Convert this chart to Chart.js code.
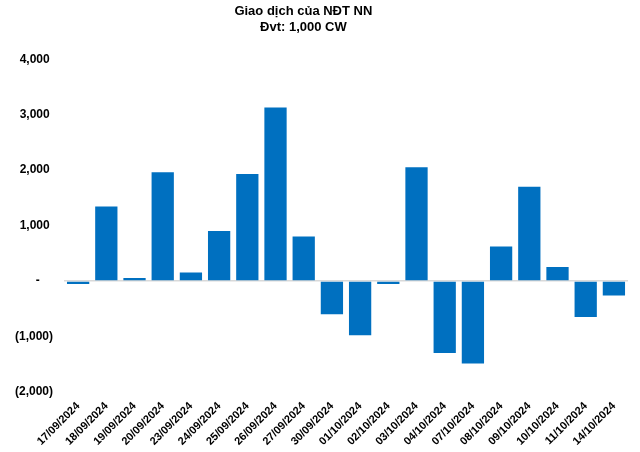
<!DOCTYPE html>
<html lang="vi">
<head>
    <meta charset="UTF-8">
    <title>Giao dịch của NĐT NN</title>
    <script src="https://cdn.jsdelivr.net/npm/chart.js"></script>
    <style>
        body {
            margin: 0;
            background: #fff;
        }
        .wrap {
            width: 640px;
            height: 452px;
        }
    </style>
</head>
<body>
    <div class="wrap"><canvas id="chart"></canvas></div>

    <script>
        const dates = ['17/09/2024', '18/09/2024', '19/09/2024', '20/09/2024', '23/09/2024',
            '24/09/2024', '25/09/2024', '26/09/2024', '27/09/2024', '30/09/2024',
            '01/10/2024', '02/10/2024', '03/10/2024', '04/10/2024', '07/10/2024',
            '08/10/2024', '09/10/2024', '10/10/2024', '11/10/2024', '14/10/2024'];
        const netValues = [-55, 1340, 50, 1960, 150, 900, 1930, 3130, 800, -600,
            -980, -55, 2050, -1300, -1490, 620, 1700, 250, -650, -265];
        const yMin = -2000, yMax = 4000, yStep = 1000;
        // trailing spaces nudge the centred title a little to the left, like the original
        const titleLines = ['Giao dịch của NĐT NN       ', 'Đvt: 1,000 CW       '];

        function fmt(v) {
            if (v === 0) return '-    ';
            const s = Math.abs(v).toLocaleString('en-US');
            return v < 0 ? '(' + s + ')' : s + ' ';
        }

        let ctx = document.getElementById('chart').getContext('2d');
        new Chart(ctx, {
            type: 'bar',
            data: {
                labels: dates,
                datasets: [{
                    data: netValues,
                    backgroundColor: '#0070C0',
                    categoryPercentage: 1,
                    barPercentage: 0.79
                }]
            },
            options: {
                responsive: true,
                maintainAspectRatio: false,
                animation: false,
                layout: { padding: { top: 4, right: 12, left: 4, bottom: 4 } },
                plugins: {
                    legend: { display: false },
                    tooltip: { enabled: false },
                    title: {
                        display: true,
                        text: titleLines,
                        color: '#000',
                        font: { family: 'Liberation Sans', size: 13, weight: 'bold', lineHeight: 1.2 },
                        padding: { top: 0, bottom: 24 }
                    }
                },
                scales: {
                    x: {
                        grid: { display: false },
                        border: { display: false },
                        ticks: {
                            color: '#000',
                            font: { family: 'Liberation Sans', size: 11, weight: 'bold' },
                            minRotation: 45,
                            maxRotation: 45,
                            autoSkip: false,
                            padding: 0
                        }
                    },
                    y: {
                        min: yMin,
                        max: yMax,
                        border: { display: false },
                        grid: {
                            drawTicks: false,
                            color: c => c.tick.value === 0 ? '#d9d9d9' : 'rgba(0,0,0,0)',
                            lineWidth: 1.5
                        },
                        ticks: {
                            stepSize: yStep,
                            color: '#000',
                            padding: 11,
                            font: { family: 'Liberation Sans', size: 12, weight: 'bold' },
                            callback: v => fmt(v)
                        }
                    }
                }
            }
        });
    </script>
</body>
</html>
